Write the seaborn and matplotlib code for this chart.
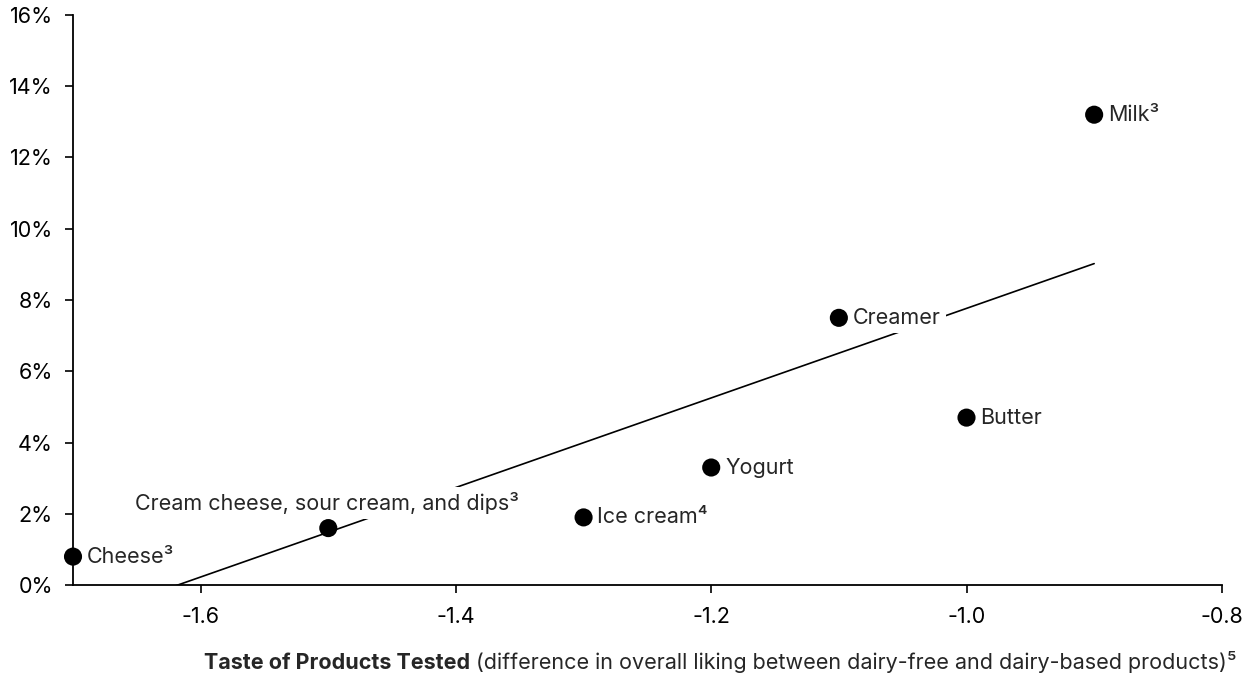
import pandas as pd
import matplotlib
matplotlib.use("Agg")
import matplotlib.pyplot as plt
import seaborn as sns
from matplotlib.ticker import FuncFormatter

# data
products = ['Cheese³', 'Cream cheese, sour cream, and dips³', 'Ice cream⁴', 'Yogurt',
            'Creamer', 'Butter', 'Milk³']
taste_gap = [-1.7, -1.5, -1.3, -1.2, -1.1, -1.0, -0.9]
share = [0.8, 1.6, 1.9, 3.3, 7.5, 4.7, 13.2]
x_ticks = [-1.6, -1.4, -1.2, -1.0, -0.8]
y_ticks = [0, 2, 4, 6, 8, 10, 12, 14, 16]

df = pd.DataFrame({'product': products, 'taste': taste_gap, 'share': share})

sns.set_style('ticks')
plt.rcParams['font.family'] = ['Inter', 'DejaVu Sans']
plt.rcParams['axes.unicode_minus'] = False

FS = 15.5

fig = plt.figure(figsize=(12.48, 6.78), dpi=100)
ax = fig.add_axes([0.0585, 0.137, 0.9205, 0.841])

# trend line
sns.regplot(x='taste', y='share', data=df, scatter=False, ci=None,
            color='black', line_kws={'linewidth': 1.2, 'zorder': 1}, ax=ax)
sns.scatterplot(x='taste', y='share', data=df, color='black', s=170,
                edgecolor='none', zorder=3, ax=ax, clip_on=False)

# point labels (white box hides the trend line behind the text)
box = dict(boxstyle='square,pad=0.25', fc='white', ec='none')
for _, r in df.iterrows():
    if r['product'].startswith('Cream cheese'):
        ax.annotate(r['product'], (r['taste'], r['share']), xytext=(-1, 18),
                    textcoords='offset points', ha='center', va='center',
                    fontsize=FS, zorder=2, bbox=box)
    else:
        ax.annotate(r['product'], (r['taste'], r['share']), xytext=(10, 0),
                    textcoords='offset points', ha='left', va='center',
                    fontsize=FS, zorder=2, bbox=box)

ax.set_xlim(-1.7, -0.8)
ax.set_ylim(0, 16)
ax.set_xticks(x_ticks)
ax.set_yticks(y_ticks)
ax.yaxis.set_major_formatter(FuncFormatter(lambda v, p: f'{v:.0f}%'))
ax.xaxis.set_major_formatter(FuncFormatter(lambda v, p: f'{v:.1f}'))
ax.tick_params(axis='both', labelsize=FS, length=6, width=1.2, colors='black')
ax.tick_params(axis='y', pad=8.5)
ax.tick_params(axis='x', pad=10)
for s in ['left', 'bottom']:
    ax.spines[s].set_linewidth(1.3)
    ax.spines[s].set_color('black')
sns.despine(ax=ax)
ax.set_xlabel('')
ax.set_ylabel('')

# x axis title: bold part + regular part
t = fig.text(0.991, 0.008, ' (difference in overall liking between dairy-free and dairy-based products)⁵',
             ha='right', va='bottom', fontsize=FS)
ax.annotate('Taste of Products Tested', xy=(0, 0), xycoords=t, ha='right', va='bottom',
            fontsize=FS, fontweight='bold')

fig.savefig('out.png', dpi=100)
